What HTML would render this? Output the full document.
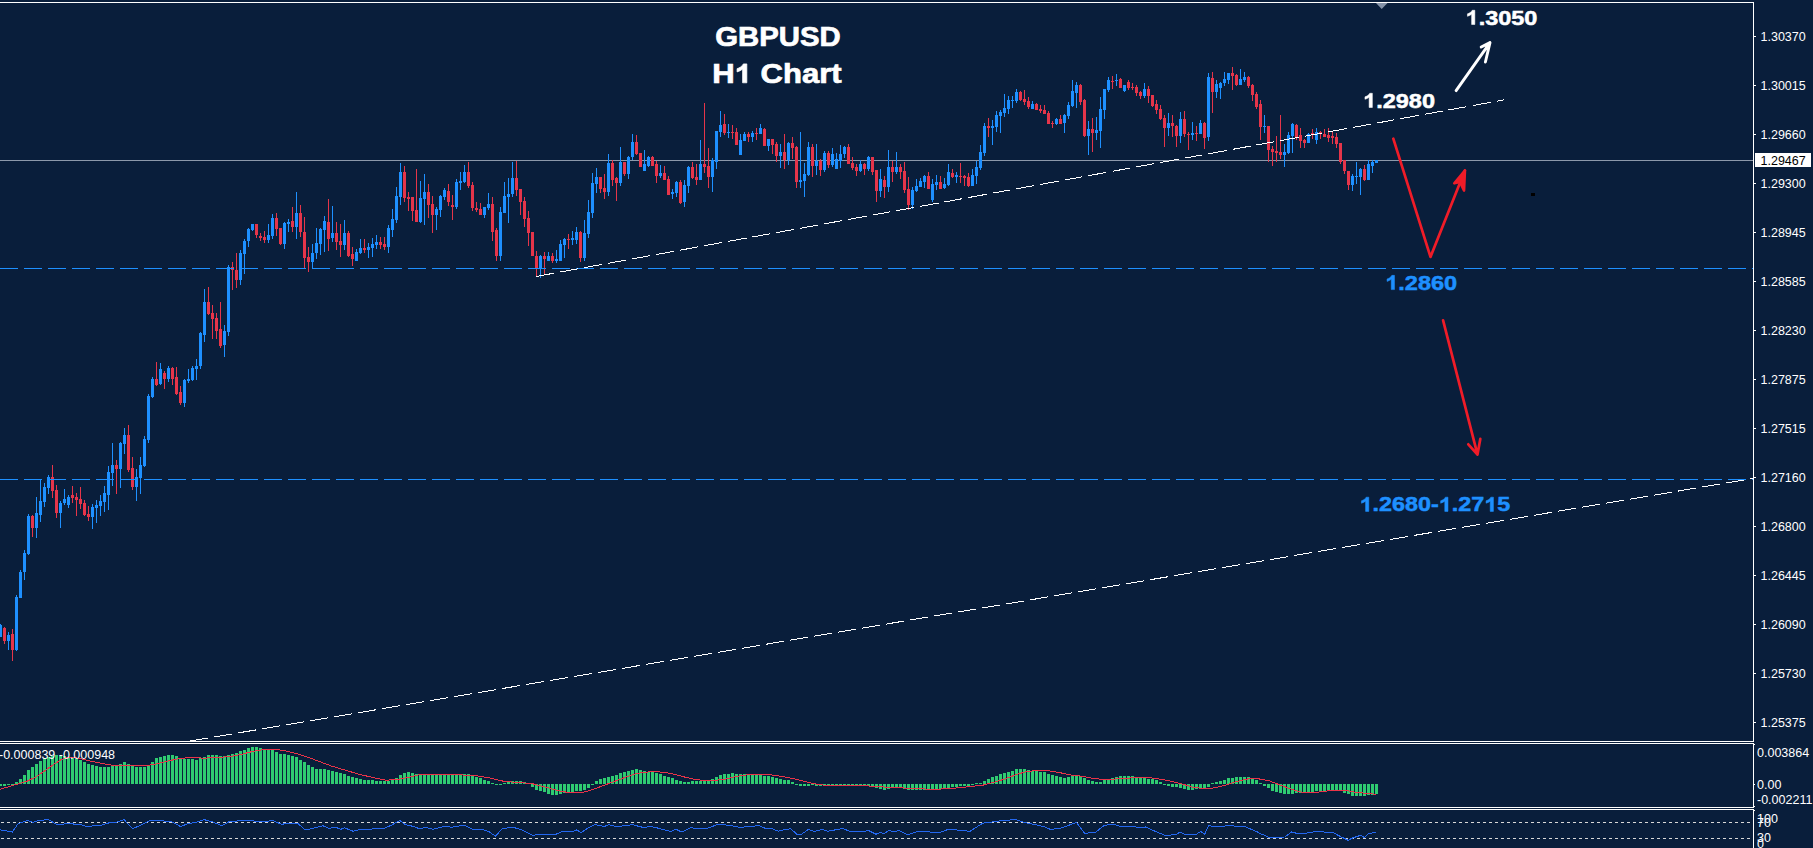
<!DOCTYPE html>
<html><head><meta charset="utf-8"><title>GBPUSD H1 Chart</title>
<style>
html,body{margin:0;padding:0;background:#091e3b;}
body{width:1813px;height:848px;overflow:hidden;font-family:"Liberation Sans",sans-serif;}
svg{display:block}
text{font-family:"Liberation Sans",sans-serif;}
.ax{font-size:12.5px;fill:#fff;}
.big{font-weight:bold;}
</style></head><body>
<svg width="1813" height="848" viewBox="0 0 1813 848">
<rect x="0" y="0" width="1813" height="848" fill="#091e3b"/>

<g shape-rendering="crispEdges" fill="#fff">
<rect x="0" y="2" width="1754" height="1"/>
<rect x="1753" y="2" width="1" height="846"/>
<rect x="0" y="741" width="1754" height="1"/>
<rect x="0" y="743" width="1754" height="1"/>
<rect x="0" y="807" width="1754" height="1"/>
<rect x="0" y="809" width="1754" height="1"/>
</g>
<rect x="1753" y="742" width="1" height="1" fill="#091e3b"/>
<rect x="1753" y="808" width="1" height="1" fill="#091e3b"/>
<rect x="0" y="160" width="1753" height="1" fill="#8d99ab" shape-rendering="crispEdges"/>
<g shape-rendering="crispEdges">
<rect x="0" y="624" width="1" height="13" fill="#1e90ff"/>
<rect x="0" y="625" width="2" height="12" fill="#1e90ff"/>
<rect x="4" y="627" width="1" height="17" fill="#e5354a"/>
<rect x="3" y="628" width="3" height="13" fill="#e5354a"/>
<rect x="8" y="632" width="1" height="18" fill="#1e90ff"/>
<rect x="7" y="635" width="3" height="6" fill="#1e90ff"/>
<rect x="12" y="629" width="1" height="32" fill="#e5354a"/>
<rect x="11" y="634" width="3" height="16" fill="#e5354a"/>
<rect x="16" y="595" width="1" height="56" fill="#1e90ff"/>
<rect x="15" y="597" width="3" height="53" fill="#1e90ff"/>
<rect x="20" y="570" width="1" height="28" fill="#1e90ff"/>
<rect x="19" y="572" width="3" height="26" fill="#1e90ff"/>
<rect x="24" y="550" width="1" height="30" fill="#1e90ff"/>
<rect x="23" y="553" width="3" height="19" fill="#1e90ff"/>
<rect x="28" y="514" width="1" height="41" fill="#1e90ff"/>
<rect x="27" y="516" width="3" height="38" fill="#1e90ff"/>
<rect x="32" y="515" width="1" height="22" fill="#e5354a"/>
<rect x="31" y="516" width="3" height="12" fill="#e5354a"/>
<rect x="36" y="497" width="1" height="41" fill="#1e90ff"/>
<rect x="35" y="513" width="3" height="15" fill="#1e90ff"/>
<rect x="40" y="479" width="1" height="43" fill="#1e90ff"/>
<rect x="39" y="501" width="3" height="14" fill="#1e90ff"/>
<rect x="44" y="483" width="1" height="24" fill="#1e90ff"/>
<rect x="43" y="487" width="3" height="15" fill="#1e90ff"/>
<rect x="48" y="475" width="1" height="19" fill="#1e90ff"/>
<rect x="47" y="477" width="3" height="11" fill="#1e90ff"/>
<rect x="52" y="465" width="1" height="33" fill="#e5354a"/>
<rect x="51" y="477" width="3" height="14" fill="#e5354a"/>
<rect x="56" y="485" width="1" height="33" fill="#e5354a"/>
<rect x="55" y="490" width="3" height="23" fill="#e5354a"/>
<rect x="60" y="501" width="1" height="27" fill="#1e90ff"/>
<rect x="59" y="503" width="3" height="10" fill="#1e90ff"/>
<rect x="64" y="489" width="1" height="16" fill="#1e90ff"/>
<rect x="63" y="499" width="3" height="4" fill="#1e90ff"/>
<rect x="68" y="495" width="1" height="13" fill="#1e90ff"/>
<rect x="67" y="497" width="3" height="8" fill="#1e90ff"/>
<rect x="72" y="486" width="1" height="17" fill="#e5354a"/>
<rect x="71" y="495" width="3" height="3" fill="#e5354a"/>
<rect x="76" y="493" width="1" height="23" fill="#e5354a"/>
<rect x="75" y="497" width="3" height="3" fill="#e5354a"/>
<rect x="80" y="487" width="1" height="22" fill="#e5354a"/>
<rect x="79" y="499" width="3" height="5" fill="#e5354a"/>
<rect x="84" y="500" width="1" height="16" fill="#e5354a"/>
<rect x="83" y="503" width="3" height="12" fill="#e5354a"/>
<rect x="88" y="506" width="1" height="15" fill="#e5354a"/>
<rect x="87" y="514" width="3" height="3" fill="#e5354a"/>
<rect x="92" y="504" width="1" height="25" fill="#1e90ff"/>
<rect x="91" y="507" width="3" height="10" fill="#1e90ff"/>
<rect x="96" y="500" width="1" height="23" fill="#1e90ff"/>
<rect x="95" y="505" width="3" height="3" fill="#1e90ff"/>
<rect x="100" y="495" width="1" height="21" fill="#1e90ff"/>
<rect x="99" y="501" width="3" height="5" fill="#1e90ff"/>
<rect x="104" y="486" width="1" height="26" fill="#1e90ff"/>
<rect x="103" y="493" width="3" height="9" fill="#1e90ff"/>
<rect x="108" y="466" width="1" height="44" fill="#1e90ff"/>
<rect x="107" y="472" width="3" height="23" fill="#1e90ff"/>
<rect x="112" y="443" width="1" height="43" fill="#1e90ff"/>
<rect x="111" y="465" width="3" height="8" fill="#1e90ff"/>
<rect x="116" y="460" width="1" height="34" fill="#e5354a"/>
<rect x="115" y="465" width="3" height="4" fill="#e5354a"/>
<rect x="120" y="442" width="1" height="46" fill="#1e90ff"/>
<rect x="119" y="443" width="3" height="26" fill="#1e90ff"/>
<rect x="124" y="428" width="1" height="26" fill="#1e90ff"/>
<rect x="123" y="435" width="3" height="9" fill="#1e90ff"/>
<rect x="128" y="425" width="1" height="47" fill="#e5354a"/>
<rect x="127" y="435" width="3" height="35" fill="#e5354a"/>
<rect x="132" y="457" width="1" height="33" fill="#e5354a"/>
<rect x="131" y="468" width="3" height="19" fill="#e5354a"/>
<rect x="136" y="469" width="1" height="32" fill="#1e90ff"/>
<rect x="135" y="477" width="3" height="10" fill="#1e90ff"/>
<rect x="140" y="457" width="1" height="37" fill="#1e90ff"/>
<rect x="139" y="465" width="3" height="13" fill="#1e90ff"/>
<rect x="144" y="436" width="1" height="31" fill="#1e90ff"/>
<rect x="143" y="439" width="3" height="27" fill="#1e90ff"/>
<rect x="148" y="394" width="1" height="49" fill="#1e90ff"/>
<rect x="147" y="396" width="3" height="44" fill="#1e90ff"/>
<rect x="152" y="377" width="1" height="21" fill="#1e90ff"/>
<rect x="151" y="379" width="3" height="18" fill="#1e90ff"/>
<rect x="156" y="362" width="1" height="24" fill="#e5354a"/>
<rect x="155" y="379" width="3" height="6" fill="#e5354a"/>
<rect x="160" y="363" width="1" height="22" fill="#1e90ff"/>
<rect x="159" y="369" width="3" height="15" fill="#1e90ff"/>
<rect x="164" y="371" width="1" height="18" fill="#e5354a"/>
<rect x="163" y="373" width="3" height="6" fill="#e5354a"/>
<rect x="168" y="366" width="1" height="16" fill="#1e90ff"/>
<rect x="167" y="368" width="3" height="11" fill="#1e90ff"/>
<rect x="172" y="367" width="1" height="18" fill="#e5354a"/>
<rect x="171" y="368" width="3" height="11" fill="#e5354a"/>
<rect x="176" y="367" width="1" height="28" fill="#e5354a"/>
<rect x="175" y="377" width="3" height="17" fill="#e5354a"/>
<rect x="180" y="386" width="1" height="19" fill="#e5354a"/>
<rect x="179" y="392" width="3" height="11" fill="#e5354a"/>
<rect x="184" y="379" width="1" height="28" fill="#1e90ff"/>
<rect x="183" y="380" width="3" height="23" fill="#1e90ff"/>
<rect x="188" y="369" width="1" height="14" fill="#1e90ff"/>
<rect x="187" y="379" width="3" height="2" fill="#1e90ff"/>
<rect x="192" y="366" width="1" height="15" fill="#1e90ff"/>
<rect x="191" y="368" width="3" height="12" fill="#1e90ff"/>
<rect x="196" y="359" width="1" height="21" fill="#1e90ff"/>
<rect x="195" y="366" width="3" height="3" fill="#1e90ff"/>
<rect x="200" y="332" width="1" height="37" fill="#1e90ff"/>
<rect x="199" y="333" width="3" height="33" fill="#1e90ff"/>
<rect x="204" y="289" width="1" height="53" fill="#1e90ff"/>
<rect x="203" y="302" width="3" height="33" fill="#1e90ff"/>
<rect x="208" y="287" width="1" height="28" fill="#e5354a"/>
<rect x="207" y="302" width="3" height="12" fill="#e5354a"/>
<rect x="212" y="305" width="1" height="34" fill="#e5354a"/>
<rect x="211" y="313" width="3" height="6" fill="#e5354a"/>
<rect x="216" y="313" width="1" height="26" fill="#e5354a"/>
<rect x="215" y="318" width="3" height="13" fill="#e5354a"/>
<rect x="220" y="302" width="1" height="46" fill="#e5354a"/>
<rect x="219" y="329" width="3" height="17" fill="#e5354a"/>
<rect x="224" y="325" width="1" height="32" fill="#1e90ff"/>
<rect x="223" y="331" width="3" height="14" fill="#1e90ff"/>
<rect x="228" y="265" width="1" height="71" fill="#1e90ff"/>
<rect x="227" y="267" width="3" height="65" fill="#1e90ff"/>
<rect x="232" y="262" width="1" height="28" fill="#e5354a"/>
<rect x="231" y="267" width="3" height="3" fill="#e5354a"/>
<rect x="236" y="253" width="1" height="35" fill="#e5354a"/>
<rect x="235" y="270" width="3" height="10" fill="#e5354a"/>
<rect x="240" y="250" width="1" height="35" fill="#1e90ff"/>
<rect x="239" y="253" width="3" height="27" fill="#1e90ff"/>
<rect x="244" y="239" width="1" height="35" fill="#1e90ff"/>
<rect x="243" y="241" width="3" height="13" fill="#1e90ff"/>
<rect x="248" y="228" width="1" height="19" fill="#1e90ff"/>
<rect x="247" y="229" width="3" height="12" fill="#1e90ff"/>
<rect x="252" y="224" width="1" height="7" fill="#1e90ff"/>
<rect x="251" y="224" width="3" height="6" fill="#1e90ff"/>
<rect x="256" y="224" width="1" height="14" fill="#e5354a"/>
<rect x="255" y="224" width="3" height="11" fill="#e5354a"/>
<rect x="260" y="233" width="1" height="8" fill="#e5354a"/>
<rect x="259" y="236" width="3" height="2" fill="#e5354a"/>
<rect x="264" y="231" width="1" height="12" fill="#e5354a"/>
<rect x="263" y="237" width="3" height="3" fill="#e5354a"/>
<rect x="268" y="224" width="1" height="19" fill="#1e90ff"/>
<rect x="267" y="235" width="3" height="5" fill="#1e90ff"/>
<rect x="272" y="214" width="1" height="25" fill="#1e90ff"/>
<rect x="271" y="218" width="3" height="18" fill="#1e90ff"/>
<rect x="276" y="213" width="1" height="23" fill="#e5354a"/>
<rect x="275" y="218" width="3" height="11" fill="#e5354a"/>
<rect x="280" y="228" width="1" height="17" fill="#e5354a"/>
<rect x="279" y="228" width="3" height="16" fill="#e5354a"/>
<rect x="284" y="222" width="1" height="27" fill="#1e90ff"/>
<rect x="283" y="223" width="3" height="21" fill="#1e90ff"/>
<rect x="288" y="219" width="1" height="13" fill="#1e90ff"/>
<rect x="287" y="222" width="3" height="2" fill="#1e90ff"/>
<rect x="292" y="207" width="1" height="25" fill="#e5354a"/>
<rect x="291" y="221" width="3" height="6" fill="#e5354a"/>
<rect x="296" y="192" width="1" height="47" fill="#1e90ff"/>
<rect x="295" y="213" width="3" height="14" fill="#1e90ff"/>
<rect x="300" y="205" width="1" height="32" fill="#e5354a"/>
<rect x="299" y="213" width="3" height="19" fill="#e5354a"/>
<rect x="304" y="217" width="1" height="51" fill="#e5354a"/>
<rect x="303" y="232" width="3" height="26" fill="#e5354a"/>
<rect x="308" y="247" width="1" height="25" fill="#e5354a"/>
<rect x="307" y="257" width="3" height="5" fill="#e5354a"/>
<rect x="312" y="244" width="1" height="24" fill="#1e90ff"/>
<rect x="311" y="253" width="3" height="9" fill="#1e90ff"/>
<rect x="316" y="228" width="1" height="31" fill="#1e90ff"/>
<rect x="315" y="243" width="3" height="10" fill="#1e90ff"/>
<rect x="320" y="228" width="1" height="27" fill="#1e90ff"/>
<rect x="319" y="229" width="3" height="15" fill="#1e90ff"/>
<rect x="324" y="216" width="1" height="36" fill="#1e90ff"/>
<rect x="323" y="221" width="3" height="9" fill="#1e90ff"/>
<rect x="328" y="199" width="1" height="52" fill="#e5354a"/>
<rect x="327" y="222" width="3" height="17" fill="#e5354a"/>
<rect x="332" y="206" width="1" height="36" fill="#1e90ff"/>
<rect x="331" y="233" width="3" height="5" fill="#1e90ff"/>
<rect x="336" y="222" width="1" height="28" fill="#e5354a"/>
<rect x="335" y="233" width="3" height="9" fill="#e5354a"/>
<rect x="340" y="224" width="1" height="33" fill="#e5354a"/>
<rect x="339" y="241" width="3" height="4" fill="#e5354a"/>
<rect x="344" y="220" width="1" height="30" fill="#1e90ff"/>
<rect x="343" y="233" width="3" height="12" fill="#1e90ff"/>
<rect x="348" y="231" width="1" height="26" fill="#e5354a"/>
<rect x="347" y="233" width="3" height="23" fill="#e5354a"/>
<rect x="352" y="247" width="1" height="19" fill="#e5354a"/>
<rect x="351" y="254" width="3" height="5" fill="#e5354a"/>
<rect x="356" y="249" width="1" height="12" fill="#1e90ff"/>
<rect x="355" y="252" width="3" height="9" fill="#1e90ff"/>
<rect x="360" y="239" width="1" height="15" fill="#1e90ff"/>
<rect x="359" y="248" width="3" height="5" fill="#1e90ff"/>
<rect x="364" y="239" width="1" height="14" fill="#e5354a"/>
<rect x="363" y="248" width="3" height="2" fill="#e5354a"/>
<rect x="368" y="243" width="1" height="15" fill="#1e90ff"/>
<rect x="367" y="247" width="3" height="3" fill="#1e90ff"/>
<rect x="372" y="238" width="1" height="19" fill="#1e90ff"/>
<rect x="371" y="244" width="3" height="4" fill="#1e90ff"/>
<rect x="376" y="235" width="1" height="14" fill="#1e90ff"/>
<rect x="375" y="242" width="3" height="3" fill="#1e90ff"/>
<rect x="380" y="237" width="1" height="12" fill="#e5354a"/>
<rect x="379" y="242" width="3" height="3" fill="#e5354a"/>
<rect x="384" y="237" width="1" height="13" fill="#e5354a"/>
<rect x="383" y="244" width="3" height="3" fill="#e5354a"/>
<rect x="388" y="225" width="1" height="28" fill="#1e90ff"/>
<rect x="387" y="228" width="3" height="19" fill="#1e90ff"/>
<rect x="392" y="209" width="1" height="28" fill="#1e90ff"/>
<rect x="391" y="219" width="3" height="11" fill="#1e90ff"/>
<rect x="396" y="187" width="1" height="36" fill="#1e90ff"/>
<rect x="395" y="196" width="3" height="24" fill="#1e90ff"/>
<rect x="400" y="163" width="1" height="42" fill="#1e90ff"/>
<rect x="399" y="172" width="3" height="25" fill="#1e90ff"/>
<rect x="404" y="166" width="1" height="36" fill="#e5354a"/>
<rect x="403" y="172" width="3" height="26" fill="#e5354a"/>
<rect x="408" y="192" width="1" height="19" fill="#e5354a"/>
<rect x="407" y="197" width="3" height="2" fill="#e5354a"/>
<rect x="412" y="197" width="1" height="24" fill="#e5354a"/>
<rect x="411" y="197" width="3" height="14" fill="#e5354a"/>
<rect x="416" y="169" width="1" height="53" fill="#e5354a"/>
<rect x="415" y="210" width="3" height="12" fill="#e5354a"/>
<rect x="420" y="181" width="1" height="42" fill="#1e90ff"/>
<rect x="419" y="198" width="3" height="24" fill="#1e90ff"/>
<rect x="424" y="174" width="1" height="51" fill="#1e90ff"/>
<rect x="423" y="192" width="3" height="7" fill="#1e90ff"/>
<rect x="428" y="184" width="1" height="34" fill="#e5354a"/>
<rect x="427" y="192" width="3" height="13" fill="#e5354a"/>
<rect x="432" y="196" width="1" height="37" fill="#e5354a"/>
<rect x="431" y="204" width="3" height="11" fill="#e5354a"/>
<rect x="436" y="207" width="1" height="23" fill="#1e90ff"/>
<rect x="435" y="209" width="3" height="6" fill="#1e90ff"/>
<rect x="440" y="195" width="1" height="22" fill="#1e90ff"/>
<rect x="439" y="196" width="3" height="14" fill="#1e90ff"/>
<rect x="444" y="188" width="1" height="12" fill="#1e90ff"/>
<rect x="443" y="190" width="3" height="7" fill="#1e90ff"/>
<rect x="448" y="184" width="1" height="22" fill="#e5354a"/>
<rect x="447" y="191" width="3" height="11" fill="#e5354a"/>
<rect x="452" y="195" width="1" height="25" fill="#e5354a"/>
<rect x="451" y="205" width="3" height="2" fill="#e5354a"/>
<rect x="456" y="179" width="1" height="30" fill="#1e90ff"/>
<rect x="455" y="182" width="3" height="25" fill="#1e90ff"/>
<rect x="460" y="172" width="1" height="18" fill="#1e90ff"/>
<rect x="459" y="181" width="3" height="2" fill="#1e90ff"/>
<rect x="464" y="165" width="1" height="18" fill="#1e90ff"/>
<rect x="463" y="172" width="3" height="10" fill="#1e90ff"/>
<rect x="468" y="162" width="1" height="26" fill="#e5354a"/>
<rect x="467" y="172" width="3" height="14" fill="#e5354a"/>
<rect x="472" y="182" width="1" height="29" fill="#e5354a"/>
<rect x="471" y="185" width="3" height="23" fill="#e5354a"/>
<rect x="476" y="202" width="1" height="10" fill="#e5354a"/>
<rect x="475" y="208" width="3" height="2" fill="#e5354a"/>
<rect x="480" y="203" width="1" height="12" fill="#e5354a"/>
<rect x="479" y="209" width="3" height="6" fill="#e5354a"/>
<rect x="484" y="207" width="1" height="11" fill="#1e90ff"/>
<rect x="483" y="207" width="3" height="8" fill="#1e90ff"/>
<rect x="488" y="193" width="1" height="17" fill="#1e90ff"/>
<rect x="487" y="204" width="3" height="4" fill="#1e90ff"/>
<rect x="492" y="197" width="1" height="44" fill="#e5354a"/>
<rect x="491" y="204" width="3" height="28" fill="#e5354a"/>
<rect x="496" y="228" width="1" height="33" fill="#e5354a"/>
<rect x="495" y="230" width="3" height="26" fill="#e5354a"/>
<rect x="500" y="207" width="1" height="54" fill="#1e90ff"/>
<rect x="499" y="212" width="3" height="44" fill="#1e90ff"/>
<rect x="504" y="182" width="1" height="31" fill="#1e90ff"/>
<rect x="503" y="196" width="3" height="17" fill="#1e90ff"/>
<rect x="508" y="178" width="1" height="45" fill="#1e90ff"/>
<rect x="507" y="194" width="3" height="3" fill="#1e90ff"/>
<rect x="512" y="162" width="1" height="35" fill="#1e90ff"/>
<rect x="511" y="178" width="3" height="16" fill="#1e90ff"/>
<rect x="516" y="161" width="1" height="35" fill="#e5354a"/>
<rect x="515" y="178" width="3" height="12" fill="#e5354a"/>
<rect x="520" y="189" width="1" height="26" fill="#e5354a"/>
<rect x="519" y="189" width="3" height="13" fill="#e5354a"/>
<rect x="524" y="197" width="1" height="30" fill="#e5354a"/>
<rect x="523" y="201" width="3" height="18" fill="#e5354a"/>
<rect x="528" y="211" width="1" height="35" fill="#e5354a"/>
<rect x="527" y="218" width="3" height="15" fill="#e5354a"/>
<rect x="532" y="232" width="1" height="24" fill="#e5354a"/>
<rect x="531" y="232" width="3" height="24" fill="#e5354a"/>
<rect x="536" y="251" width="1" height="26" fill="#e5354a"/>
<rect x="535" y="256" width="3" height="12" fill="#e5354a"/>
<rect x="540" y="255" width="1" height="23" fill="#1e90ff"/>
<rect x="539" y="256" width="3" height="12" fill="#1e90ff"/>
<rect x="544" y="252" width="1" height="22" fill="#e5354a"/>
<rect x="543" y="256" width="3" height="3" fill="#e5354a"/>
<rect x="548" y="252" width="1" height="9" fill="#1e90ff"/>
<rect x="547" y="256" width="3" height="5" fill="#1e90ff"/>
<rect x="552" y="253" width="1" height="10" fill="#e5354a"/>
<rect x="551" y="256" width="3" height="5" fill="#e5354a"/>
<rect x="556" y="250" width="1" height="13" fill="#1e90ff"/>
<rect x="555" y="259" width="3" height="2" fill="#1e90ff"/>
<rect x="560" y="240" width="1" height="21" fill="#1e90ff"/>
<rect x="559" y="244" width="3" height="17" fill="#1e90ff"/>
<rect x="564" y="238" width="1" height="20" fill="#1e90ff"/>
<rect x="563" y="239" width="3" height="6" fill="#1e90ff"/>
<rect x="568" y="234" width="1" height="15" fill="#e5354a"/>
<rect x="567" y="239" width="3" height="1" fill="#e5354a"/>
<rect x="572" y="231" width="1" height="14" fill="#1e90ff"/>
<rect x="571" y="238" width="3" height="2" fill="#1e90ff"/>
<rect x="576" y="227" width="1" height="17" fill="#1e90ff"/>
<rect x="575" y="232" width="3" height="8" fill="#1e90ff"/>
<rect x="580" y="231" width="1" height="31" fill="#e5354a"/>
<rect x="579" y="232" width="3" height="26" fill="#e5354a"/>
<rect x="584" y="220" width="1" height="41" fill="#1e90ff"/>
<rect x="583" y="233" width="3" height="25" fill="#1e90ff"/>
<rect x="588" y="200" width="1" height="38" fill="#1e90ff"/>
<rect x="587" y="212" width="3" height="22" fill="#1e90ff"/>
<rect x="592" y="173" width="1" height="45" fill="#1e90ff"/>
<rect x="591" y="183" width="3" height="30" fill="#1e90ff"/>
<rect x="596" y="168" width="1" height="25" fill="#1e90ff"/>
<rect x="595" y="177" width="3" height="7" fill="#1e90ff"/>
<rect x="600" y="177" width="1" height="16" fill="#e5354a"/>
<rect x="599" y="177" width="3" height="12" fill="#e5354a"/>
<rect x="604" y="174" width="1" height="25" fill="#e5354a"/>
<rect x="603" y="188" width="3" height="4" fill="#e5354a"/>
<rect x="608" y="154" width="1" height="42" fill="#1e90ff"/>
<rect x="607" y="163" width="3" height="29" fill="#1e90ff"/>
<rect x="612" y="160" width="1" height="26" fill="#e5354a"/>
<rect x="611" y="163" width="3" height="17" fill="#e5354a"/>
<rect x="616" y="177" width="1" height="24" fill="#e5354a"/>
<rect x="615" y="178" width="3" height="5" fill="#e5354a"/>
<rect x="620" y="147" width="1" height="39" fill="#1e90ff"/>
<rect x="619" y="162" width="3" height="21" fill="#1e90ff"/>
<rect x="624" y="162" width="1" height="14" fill="#e5354a"/>
<rect x="623" y="162" width="3" height="12" fill="#e5354a"/>
<rect x="628" y="156" width="1" height="23" fill="#1e90ff"/>
<rect x="627" y="157" width="3" height="17" fill="#1e90ff"/>
<rect x="632" y="134" width="1" height="26" fill="#1e90ff"/>
<rect x="631" y="142" width="3" height="15" fill="#1e90ff"/>
<rect x="636" y="135" width="1" height="20" fill="#e5354a"/>
<rect x="635" y="142" width="3" height="12" fill="#e5354a"/>
<rect x="640" y="153" width="1" height="14" fill="#e5354a"/>
<rect x="639" y="153" width="3" height="14" fill="#e5354a"/>
<rect x="644" y="150" width="1" height="21" fill="#1e90ff"/>
<rect x="643" y="164" width="3" height="7" fill="#1e90ff"/>
<rect x="648" y="156" width="1" height="11" fill="#1e90ff"/>
<rect x="647" y="157" width="3" height="9" fill="#1e90ff"/>
<rect x="652" y="156" width="1" height="10" fill="#e5354a"/>
<rect x="651" y="157" width="3" height="9" fill="#e5354a"/>
<rect x="656" y="161" width="1" height="22" fill="#e5354a"/>
<rect x="655" y="164" width="3" height="12" fill="#e5354a"/>
<rect x="660" y="165" width="1" height="13" fill="#1e90ff"/>
<rect x="659" y="173" width="3" height="3" fill="#1e90ff"/>
<rect x="664" y="166" width="1" height="14" fill="#e5354a"/>
<rect x="663" y="173" width="3" height="7" fill="#e5354a"/>
<rect x="668" y="176" width="1" height="19" fill="#e5354a"/>
<rect x="667" y="179" width="3" height="16" fill="#e5354a"/>
<rect x="672" y="189" width="1" height="10" fill="#1e90ff"/>
<rect x="671" y="192" width="3" height="2" fill="#1e90ff"/>
<rect x="676" y="181" width="1" height="16" fill="#1e90ff"/>
<rect x="675" y="182" width="3" height="11" fill="#1e90ff"/>
<rect x="680" y="180" width="1" height="24" fill="#e5354a"/>
<rect x="679" y="182" width="3" height="21" fill="#e5354a"/>
<rect x="684" y="180" width="1" height="27" fill="#1e90ff"/>
<rect x="683" y="185" width="3" height="17" fill="#1e90ff"/>
<rect x="688" y="166" width="1" height="27" fill="#1e90ff"/>
<rect x="687" y="167" width="3" height="19" fill="#1e90ff"/>
<rect x="692" y="162" width="1" height="17" fill="#e5354a"/>
<rect x="691" y="167" width="3" height="11" fill="#e5354a"/>
<rect x="696" y="164" width="1" height="21" fill="#e5354a"/>
<rect x="695" y="177" width="3" height="3" fill="#e5354a"/>
<rect x="700" y="140" width="1" height="40" fill="#1e90ff"/>
<rect x="699" y="164" width="3" height="16" fill="#1e90ff"/>
<rect x="704" y="103" width="1" height="70" fill="#e5354a"/>
<rect x="703" y="164" width="3" height="3" fill="#e5354a"/>
<rect x="708" y="148" width="1" height="40" fill="#e5354a"/>
<rect x="707" y="166" width="3" height="11" fill="#e5354a"/>
<rect x="712" y="158" width="1" height="34" fill="#1e90ff"/>
<rect x="711" y="160" width="3" height="17" fill="#1e90ff"/>
<rect x="716" y="131" width="1" height="38" fill="#1e90ff"/>
<rect x="715" y="131" width="3" height="31" fill="#1e90ff"/>
<rect x="720" y="111" width="1" height="26" fill="#1e90ff"/>
<rect x="719" y="125" width="3" height="7" fill="#1e90ff"/>
<rect x="724" y="114" width="1" height="21" fill="#e5354a"/>
<rect x="723" y="124" width="3" height="9" fill="#e5354a"/>
<rect x="728" y="124" width="1" height="14" fill="#1e90ff"/>
<rect x="727" y="132" width="3" height="1" fill="#1e90ff"/>
<rect x="732" y="125" width="1" height="14" fill="#e5354a"/>
<rect x="731" y="132" width="3" height="1" fill="#e5354a"/>
<rect x="736" y="128" width="1" height="17" fill="#e5354a"/>
<rect x="735" y="132" width="3" height="13" fill="#e5354a"/>
<rect x="740" y="134" width="1" height="21" fill="#1e90ff"/>
<rect x="739" y="140" width="3" height="15" fill="#1e90ff"/>
<rect x="744" y="132" width="1" height="9" fill="#1e90ff"/>
<rect x="743" y="134" width="3" height="7" fill="#1e90ff"/>
<rect x="748" y="132" width="1" height="10" fill="#e5354a"/>
<rect x="747" y="134" width="3" height="3" fill="#e5354a"/>
<rect x="752" y="131" width="1" height="11" fill="#1e90ff"/>
<rect x="751" y="133" width="3" height="4" fill="#1e90ff"/>
<rect x="756" y="128" width="1" height="12" fill="#e5354a"/>
<rect x="755" y="133" width="3" height="1" fill="#e5354a"/>
<rect x="760" y="124" width="1" height="10" fill="#1e90ff"/>
<rect x="759" y="128" width="3" height="6" fill="#1e90ff"/>
<rect x="764" y="128" width="1" height="18" fill="#e5354a"/>
<rect x="763" y="129" width="3" height="17" fill="#e5354a"/>
<rect x="768" y="139" width="1" height="12" fill="#1e90ff"/>
<rect x="767" y="139" width="3" height="7" fill="#1e90ff"/>
<rect x="772" y="139" width="1" height="15" fill="#e5354a"/>
<rect x="771" y="139" width="3" height="6" fill="#e5354a"/>
<rect x="776" y="142" width="1" height="20" fill="#e5354a"/>
<rect x="775" y="144" width="3" height="12" fill="#e5354a"/>
<rect x="780" y="144" width="1" height="24" fill="#1e90ff"/>
<rect x="779" y="152" width="3" height="4" fill="#1e90ff"/>
<rect x="784" y="134" width="1" height="35" fill="#e5354a"/>
<rect x="783" y="152" width="3" height="8" fill="#e5354a"/>
<rect x="788" y="142" width="1" height="23" fill="#1e90ff"/>
<rect x="787" y="143" width="3" height="17" fill="#1e90ff"/>
<rect x="792" y="137" width="1" height="22" fill="#e5354a"/>
<rect x="791" y="143" width="3" height="5" fill="#e5354a"/>
<rect x="796" y="146" width="1" height="42" fill="#e5354a"/>
<rect x="795" y="147" width="3" height="35" fill="#e5354a"/>
<rect x="800" y="132" width="1" height="56" fill="#1e90ff"/>
<rect x="799" y="180" width="3" height="2" fill="#1e90ff"/>
<rect x="804" y="163" width="1" height="34" fill="#1e90ff"/>
<rect x="803" y="174" width="3" height="7" fill="#1e90ff"/>
<rect x="808" y="142" width="1" height="34" fill="#1e90ff"/>
<rect x="807" y="147" width="3" height="28" fill="#1e90ff"/>
<rect x="812" y="144" width="1" height="33" fill="#e5354a"/>
<rect x="811" y="147" width="3" height="19" fill="#e5354a"/>
<rect x="816" y="144" width="1" height="31" fill="#1e90ff"/>
<rect x="815" y="161" width="3" height="5" fill="#1e90ff"/>
<rect x="820" y="159" width="1" height="17" fill="#e5354a"/>
<rect x="819" y="161" width="3" height="9" fill="#e5354a"/>
<rect x="824" y="151" width="1" height="21" fill="#1e90ff"/>
<rect x="823" y="153" width="3" height="17" fill="#1e90ff"/>
<rect x="828" y="151" width="1" height="17" fill="#e5354a"/>
<rect x="827" y="153" width="3" height="12" fill="#e5354a"/>
<rect x="832" y="148" width="1" height="19" fill="#1e90ff"/>
<rect x="831" y="154" width="3" height="11" fill="#1e90ff"/>
<rect x="836" y="153" width="1" height="16" fill="#1e90ff"/>
<rect x="835" y="159" width="3" height="10" fill="#1e90ff"/>
<rect x="840" y="145" width="1" height="23" fill="#1e90ff"/>
<rect x="839" y="154" width="3" height="7" fill="#1e90ff"/>
<rect x="844" y="146" width="1" height="12" fill="#1e90ff"/>
<rect x="843" y="147" width="3" height="7" fill="#1e90ff"/>
<rect x="848" y="144" width="1" height="20" fill="#e5354a"/>
<rect x="847" y="147" width="3" height="17" fill="#e5354a"/>
<rect x="852" y="157" width="1" height="13" fill="#e5354a"/>
<rect x="851" y="163" width="3" height="5" fill="#e5354a"/>
<rect x="856" y="164" width="1" height="12" fill="#e5354a"/>
<rect x="855" y="167" width="3" height="4" fill="#e5354a"/>
<rect x="860" y="160" width="1" height="12" fill="#1e90ff"/>
<rect x="859" y="164" width="3" height="7" fill="#1e90ff"/>
<rect x="864" y="163" width="1" height="12" fill="#e5354a"/>
<rect x="863" y="164" width="3" height="5" fill="#e5354a"/>
<rect x="868" y="156" width="1" height="15" fill="#1e90ff"/>
<rect x="867" y="157" width="3" height="12" fill="#1e90ff"/>
<rect x="872" y="157" width="1" height="18" fill="#e5354a"/>
<rect x="871" y="157" width="3" height="15" fill="#e5354a"/>
<rect x="876" y="170" width="1" height="32" fill="#e5354a"/>
<rect x="875" y="170" width="3" height="21" fill="#e5354a"/>
<rect x="880" y="169" width="1" height="28" fill="#1e90ff"/>
<rect x="879" y="179" width="3" height="12" fill="#1e90ff"/>
<rect x="884" y="176" width="1" height="22" fill="#e5354a"/>
<rect x="883" y="180" width="3" height="7" fill="#e5354a"/>
<rect x="888" y="150" width="1" height="42" fill="#1e90ff"/>
<rect x="887" y="167" width="3" height="20" fill="#1e90ff"/>
<rect x="892" y="161" width="1" height="21" fill="#e5354a"/>
<rect x="891" y="167" width="3" height="5" fill="#e5354a"/>
<rect x="896" y="152" width="1" height="22" fill="#1e90ff"/>
<rect x="895" y="167" width="3" height="5" fill="#1e90ff"/>
<rect x="900" y="164" width="1" height="15" fill="#e5354a"/>
<rect x="899" y="167" width="3" height="5" fill="#e5354a"/>
<rect x="904" y="162" width="1" height="31" fill="#e5354a"/>
<rect x="903" y="171" width="3" height="19" fill="#e5354a"/>
<rect x="908" y="177" width="1" height="33" fill="#e5354a"/>
<rect x="907" y="189" width="3" height="16" fill="#e5354a"/>
<rect x="912" y="187" width="1" height="22" fill="#1e90ff"/>
<rect x="911" y="190" width="3" height="15" fill="#1e90ff"/>
<rect x="916" y="179" width="1" height="13" fill="#1e90ff"/>
<rect x="915" y="186" width="3" height="5" fill="#1e90ff"/>
<rect x="920" y="178" width="1" height="9" fill="#1e90ff"/>
<rect x="919" y="181" width="3" height="6" fill="#1e90ff"/>
<rect x="924" y="175" width="1" height="13" fill="#1e90ff"/>
<rect x="923" y="176" width="3" height="6" fill="#1e90ff"/>
<rect x="928" y="172" width="1" height="17" fill="#e5354a"/>
<rect x="927" y="176" width="3" height="13" fill="#e5354a"/>
<rect x="932" y="179" width="1" height="23" fill="#1e90ff"/>
<rect x="931" y="184" width="3" height="16" fill="#1e90ff"/>
<rect x="936" y="175" width="1" height="15" fill="#1e90ff"/>
<rect x="935" y="182" width="3" height="3" fill="#1e90ff"/>
<rect x="940" y="176" width="1" height="13" fill="#e5354a"/>
<rect x="939" y="182" width="3" height="7" fill="#e5354a"/>
<rect x="944" y="178" width="1" height="11" fill="#1e90ff"/>
<rect x="943" y="184" width="3" height="4" fill="#1e90ff"/>
<rect x="948" y="164" width="1" height="22" fill="#1e90ff"/>
<rect x="947" y="172" width="3" height="13" fill="#1e90ff"/>
<rect x="952" y="169" width="1" height="9" fill="#e5354a"/>
<rect x="951" y="173" width="3" height="4" fill="#e5354a"/>
<rect x="956" y="172" width="1" height="11" fill="#1e90ff"/>
<rect x="955" y="175" width="3" height="2" fill="#1e90ff"/>
<rect x="960" y="163" width="1" height="20" fill="#e5354a"/>
<rect x="959" y="176" width="3" height="1" fill="#e5354a"/>
<rect x="964" y="175" width="1" height="11" fill="#e5354a"/>
<rect x="963" y="176" width="3" height="2" fill="#e5354a"/>
<rect x="968" y="173" width="1" height="14" fill="#e5354a"/>
<rect x="967" y="177" width="3" height="9" fill="#e5354a"/>
<rect x="972" y="169" width="1" height="17" fill="#1e90ff"/>
<rect x="971" y="175" width="3" height="11" fill="#1e90ff"/>
<rect x="976" y="161" width="1" height="23" fill="#1e90ff"/>
<rect x="975" y="167" width="3" height="9" fill="#1e90ff"/>
<rect x="980" y="145" width="1" height="25" fill="#1e90ff"/>
<rect x="979" y="152" width="3" height="16" fill="#1e90ff"/>
<rect x="984" y="123" width="1" height="33" fill="#1e90ff"/>
<rect x="983" y="126" width="3" height="27" fill="#1e90ff"/>
<rect x="988" y="118" width="1" height="19" fill="#e5354a"/>
<rect x="987" y="126" width="3" height="2" fill="#e5354a"/>
<rect x="992" y="120" width="1" height="25" fill="#1e90ff"/>
<rect x="991" y="126" width="3" height="2" fill="#1e90ff"/>
<rect x="996" y="111" width="1" height="21" fill="#1e90ff"/>
<rect x="995" y="115" width="3" height="12" fill="#1e90ff"/>
<rect x="1000" y="110" width="1" height="23" fill="#1e90ff"/>
<rect x="999" y="112" width="3" height="4" fill="#1e90ff"/>
<rect x="1004" y="94" width="1" height="23" fill="#1e90ff"/>
<rect x="1003" y="108" width="3" height="5" fill="#1e90ff"/>
<rect x="1008" y="96" width="1" height="18" fill="#1e90ff"/>
<rect x="1007" y="100" width="3" height="9" fill="#1e90ff"/>
<rect x="1012" y="96" width="1" height="12" fill="#1e90ff"/>
<rect x="1011" y="100" width="3" height="1" fill="#1e90ff"/>
<rect x="1016" y="89" width="1" height="14" fill="#1e90ff"/>
<rect x="1015" y="92" width="3" height="9" fill="#1e90ff"/>
<rect x="1020" y="91" width="1" height="10" fill="#e5354a"/>
<rect x="1019" y="92" width="3" height="8" fill="#e5354a"/>
<rect x="1024" y="90" width="1" height="15" fill="#e5354a"/>
<rect x="1023" y="99" width="3" height="3" fill="#e5354a"/>
<rect x="1028" y="97" width="1" height="12" fill="#e5354a"/>
<rect x="1027" y="101" width="3" height="6" fill="#e5354a"/>
<rect x="1032" y="101" width="1" height="8" fill="#1e90ff"/>
<rect x="1031" y="104" width="3" height="5" fill="#1e90ff"/>
<rect x="1036" y="103" width="1" height="7" fill="#e5354a"/>
<rect x="1035" y="104" width="3" height="6" fill="#e5354a"/>
<rect x="1040" y="105" width="1" height="8" fill="#e5354a"/>
<rect x="1039" y="109" width="3" height="2" fill="#e5354a"/>
<rect x="1044" y="105" width="1" height="9" fill="#e5354a"/>
<rect x="1043" y="110" width="3" height="4" fill="#e5354a"/>
<rect x="1048" y="111" width="1" height="13" fill="#e5354a"/>
<rect x="1047" y="113" width="3" height="11" fill="#e5354a"/>
<rect x="1052" y="121" width="1" height="7" fill="#e5354a"/>
<rect x="1051" y="123" width="3" height="1" fill="#e5354a"/>
<rect x="1056" y="118" width="1" height="7" fill="#1e90ff"/>
<rect x="1055" y="119" width="3" height="5" fill="#1e90ff"/>
<rect x="1060" y="115" width="1" height="9" fill="#e5354a"/>
<rect x="1059" y="119" width="3" height="5" fill="#e5354a"/>
<rect x="1064" y="114" width="1" height="19" fill="#1e90ff"/>
<rect x="1063" y="115" width="3" height="8" fill="#1e90ff"/>
<rect x="1068" y="102" width="1" height="17" fill="#1e90ff"/>
<rect x="1067" y="105" width="3" height="11" fill="#1e90ff"/>
<rect x="1072" y="80" width="1" height="27" fill="#1e90ff"/>
<rect x="1071" y="91" width="3" height="15" fill="#1e90ff"/>
<rect x="1076" y="82" width="1" height="26" fill="#1e90ff"/>
<rect x="1075" y="85" width="3" height="8" fill="#1e90ff"/>
<rect x="1080" y="84" width="1" height="21" fill="#e5354a"/>
<rect x="1079" y="85" width="3" height="17" fill="#e5354a"/>
<rect x="1084" y="99" width="1" height="38" fill="#e5354a"/>
<rect x="1083" y="100" width="3" height="36" fill="#e5354a"/>
<rect x="1088" y="121" width="1" height="34" fill="#1e90ff"/>
<rect x="1087" y="129" width="3" height="7" fill="#1e90ff"/>
<rect x="1092" y="118" width="1" height="34" fill="#e5354a"/>
<rect x="1091" y="129" width="3" height="4" fill="#e5354a"/>
<rect x="1096" y="117" width="1" height="23" fill="#1e90ff"/>
<rect x="1095" y="130" width="3" height="3" fill="#1e90ff"/>
<rect x="1100" y="97" width="1" height="51" fill="#1e90ff"/>
<rect x="1099" y="109" width="3" height="22" fill="#1e90ff"/>
<rect x="1104" y="89" width="1" height="30" fill="#1e90ff"/>
<rect x="1103" y="89" width="3" height="21" fill="#1e90ff"/>
<rect x="1108" y="77" width="1" height="15" fill="#1e90ff"/>
<rect x="1107" y="80" width="3" height="10" fill="#1e90ff"/>
<rect x="1112" y="76" width="1" height="13" fill="#e5354a"/>
<rect x="1111" y="81" width="3" height="1" fill="#e5354a"/>
<rect x="1116" y="74" width="1" height="12" fill="#1e90ff"/>
<rect x="1115" y="80" width="3" height="1" fill="#1e90ff"/>
<rect x="1120" y="78" width="1" height="10" fill="#e5354a"/>
<rect x="1119" y="79" width="3" height="9" fill="#e5354a"/>
<rect x="1124" y="85" width="1" height="7" fill="#1e90ff"/>
<rect x="1123" y="85" width="3" height="6" fill="#1e90ff"/>
<rect x="1128" y="80" width="1" height="10" fill="#e5354a"/>
<rect x="1127" y="82" width="3" height="6" fill="#e5354a"/>
<rect x="1132" y="83" width="1" height="7" fill="#e5354a"/>
<rect x="1131" y="87" width="3" height="1" fill="#e5354a"/>
<rect x="1136" y="85" width="1" height="11" fill="#e5354a"/>
<rect x="1135" y="87" width="3" height="6" fill="#e5354a"/>
<rect x="1140" y="91" width="1" height="8" fill="#e5354a"/>
<rect x="1139" y="92" width="3" height="4" fill="#e5354a"/>
<rect x="1144" y="83" width="1" height="15" fill="#1e90ff"/>
<rect x="1143" y="89" width="3" height="7" fill="#1e90ff"/>
<rect x="1148" y="86" width="1" height="17" fill="#e5354a"/>
<rect x="1147" y="89" width="3" height="7" fill="#e5354a"/>
<rect x="1152" y="95" width="1" height="12" fill="#e5354a"/>
<rect x="1151" y="95" width="3" height="11" fill="#e5354a"/>
<rect x="1156" y="100" width="1" height="14" fill="#e5354a"/>
<rect x="1155" y="104" width="3" height="6" fill="#e5354a"/>
<rect x="1160" y="105" width="1" height="15" fill="#e5354a"/>
<rect x="1159" y="109" width="3" height="10" fill="#e5354a"/>
<rect x="1164" y="115" width="1" height="32" fill="#e5354a"/>
<rect x="1163" y="118" width="3" height="10" fill="#e5354a"/>
<rect x="1168" y="113" width="1" height="23" fill="#1e90ff"/>
<rect x="1167" y="123" width="3" height="5" fill="#1e90ff"/>
<rect x="1172" y="115" width="1" height="22" fill="#e5354a"/>
<rect x="1171" y="123" width="3" height="3" fill="#e5354a"/>
<rect x="1176" y="125" width="1" height="22" fill="#e5354a"/>
<rect x="1175" y="126" width="3" height="10" fill="#e5354a"/>
<rect x="1180" y="112" width="1" height="31" fill="#1e90ff"/>
<rect x="1179" y="119" width="3" height="17" fill="#1e90ff"/>
<rect x="1184" y="111" width="1" height="26" fill="#e5354a"/>
<rect x="1183" y="119" width="3" height="15" fill="#e5354a"/>
<rect x="1188" y="132" width="1" height="18" fill="#e5354a"/>
<rect x="1187" y="134" width="3" height="1" fill="#e5354a"/>
<rect x="1192" y="122" width="1" height="18" fill="#1e90ff"/>
<rect x="1191" y="133" width="3" height="2" fill="#1e90ff"/>
<rect x="1196" y="126" width="1" height="15" fill="#e5354a"/>
<rect x="1195" y="133" width="3" height="1" fill="#e5354a"/>
<rect x="1200" y="120" width="1" height="14" fill="#1e90ff"/>
<rect x="1199" y="123" width="3" height="11" fill="#1e90ff"/>
<rect x="1204" y="122" width="1" height="27" fill="#e5354a"/>
<rect x="1203" y="123" width="3" height="15" fill="#e5354a"/>
<rect x="1208" y="73" width="1" height="68" fill="#1e90ff"/>
<rect x="1207" y="77" width="3" height="60" fill="#1e90ff"/>
<rect x="1212" y="72" width="1" height="41" fill="#e5354a"/>
<rect x="1211" y="78" width="3" height="14" fill="#e5354a"/>
<rect x="1216" y="80" width="1" height="18" fill="#1e90ff"/>
<rect x="1215" y="84" width="3" height="8" fill="#1e90ff"/>
<rect x="1220" y="82" width="1" height="17" fill="#1e90ff"/>
<rect x="1219" y="83" width="3" height="5" fill="#1e90ff"/>
<rect x="1224" y="72" width="1" height="14" fill="#1e90ff"/>
<rect x="1223" y="79" width="3" height="4" fill="#1e90ff"/>
<rect x="1228" y="73" width="1" height="11" fill="#1e90ff"/>
<rect x="1227" y="73" width="3" height="7" fill="#1e90ff"/>
<rect x="1232" y="67" width="1" height="23" fill="#e5354a"/>
<rect x="1231" y="73" width="3" height="3" fill="#e5354a"/>
<rect x="1236" y="74" width="1" height="12" fill="#e5354a"/>
<rect x="1235" y="75" width="3" height="10" fill="#e5354a"/>
<rect x="1240" y="69" width="1" height="16" fill="#1e90ff"/>
<rect x="1239" y="79" width="3" height="6" fill="#1e90ff"/>
<rect x="1244" y="72" width="1" height="10" fill="#1e90ff"/>
<rect x="1243" y="77" width="3" height="3" fill="#1e90ff"/>
<rect x="1248" y="76" width="1" height="12" fill="#e5354a"/>
<rect x="1247" y="77" width="3" height="9" fill="#e5354a"/>
<rect x="1252" y="84" width="1" height="17" fill="#e5354a"/>
<rect x="1251" y="85" width="3" height="10" fill="#e5354a"/>
<rect x="1256" y="92" width="1" height="17" fill="#e5354a"/>
<rect x="1255" y="94" width="3" height="13" fill="#e5354a"/>
<rect x="1260" y="100" width="1" height="40" fill="#e5354a"/>
<rect x="1259" y="104" width="3" height="23" fill="#e5354a"/>
<rect x="1264" y="115" width="1" height="18" fill="#1e90ff"/>
<rect x="1263" y="126" width="3" height="1" fill="#1e90ff"/>
<rect x="1268" y="126" width="1" height="36" fill="#e5354a"/>
<rect x="1267" y="126" width="3" height="24" fill="#e5354a"/>
<rect x="1272" y="146" width="1" height="20" fill="#e5354a"/>
<rect x="1271" y="149" width="3" height="3" fill="#e5354a"/>
<rect x="1276" y="136" width="1" height="26" fill="#e5354a"/>
<rect x="1275" y="151" width="3" height="2" fill="#e5354a"/>
<rect x="1280" y="115" width="1" height="44" fill="#e5354a"/>
<rect x="1279" y="152" width="3" height="3" fill="#e5354a"/>
<rect x="1284" y="144" width="1" height="23" fill="#1e90ff"/>
<rect x="1283" y="152" width="3" height="3" fill="#1e90ff"/>
<rect x="1288" y="132" width="1" height="22" fill="#1e90ff"/>
<rect x="1287" y="135" width="3" height="18" fill="#1e90ff"/>
<rect x="1292" y="123" width="1" height="30" fill="#1e90ff"/>
<rect x="1291" y="124" width="3" height="12" fill="#1e90ff"/>
<rect x="1296" y="124" width="1" height="16" fill="#e5354a"/>
<rect x="1295" y="125" width="3" height="12" fill="#e5354a"/>
<rect x="1300" y="128" width="1" height="20" fill="#e5354a"/>
<rect x="1299" y="135" width="3" height="6" fill="#e5354a"/>
<rect x="1304" y="139" width="1" height="9" fill="#e5354a"/>
<rect x="1303" y="140" width="3" height="3" fill="#e5354a"/>
<rect x="1308" y="133" width="1" height="10" fill="#1e90ff"/>
<rect x="1307" y="134" width="3" height="9" fill="#1e90ff"/>
<rect x="1312" y="129" width="1" height="10" fill="#e5354a"/>
<rect x="1311" y="133" width="3" height="1" fill="#e5354a"/>
<rect x="1316" y="128" width="1" height="16" fill="#1e90ff"/>
<rect x="1315" y="132" width="3" height="8" fill="#1e90ff"/>
<rect x="1320" y="131" width="1" height="8" fill="#e5354a"/>
<rect x="1319" y="132" width="3" height="2" fill="#e5354a"/>
<rect x="1324" y="129" width="1" height="8" fill="#e5354a"/>
<rect x="1323" y="134" width="3" height="3" fill="#e5354a"/>
<rect x="1328" y="128" width="1" height="14" fill="#e5354a"/>
<rect x="1327" y="135" width="3" height="3" fill="#e5354a"/>
<rect x="1332" y="131" width="1" height="13" fill="#e5354a"/>
<rect x="1331" y="136" width="3" height="2" fill="#e5354a"/>
<rect x="1336" y="133" width="1" height="15" fill="#e5354a"/>
<rect x="1335" y="137" width="3" height="7" fill="#e5354a"/>
<rect x="1340" y="143" width="1" height="21" fill="#e5354a"/>
<rect x="1339" y="143" width="3" height="19" fill="#e5354a"/>
<rect x="1344" y="160" width="1" height="14" fill="#e5354a"/>
<rect x="1343" y="160" width="3" height="11" fill="#e5354a"/>
<rect x="1348" y="171" width="1" height="19" fill="#e5354a"/>
<rect x="1347" y="171" width="3" height="14" fill="#e5354a"/>
<rect x="1352" y="174" width="1" height="17" fill="#1e90ff"/>
<rect x="1351" y="176" width="3" height="9" fill="#1e90ff"/>
<rect x="1356" y="162" width="1" height="22" fill="#1e90ff"/>
<rect x="1355" y="176" width="3" height="1" fill="#1e90ff"/>
<rect x="1360" y="168" width="1" height="27" fill="#1e90ff"/>
<rect x="1359" y="169" width="3" height="8" fill="#1e90ff"/>
<rect x="1364" y="165" width="1" height="16" fill="#e5354a"/>
<rect x="1363" y="169" width="3" height="11" fill="#e5354a"/>
<rect x="1368" y="160" width="1" height="20" fill="#1e90ff"/>
<rect x="1367" y="164" width="3" height="16" fill="#1e90ff"/>
<rect x="1372" y="160" width="1" height="13" fill="#1e90ff"/>
<rect x="1371" y="162" width="3" height="4" fill="#1e90ff"/>
<rect x="1376" y="160" width="1" height="3" fill="#1e90ff"/>
<rect x="1375" y="160" width="3" height="3" fill="#1e90ff"/>
</g>
<g shape-rendering="crispEdges">
<line x1="0" y1="268.5" x2="1753" y2="268.5" stroke="#1e90ff" stroke-width="1" stroke-dasharray="18 6"/>
<line x1="0" y1="479.5" x2="1753" y2="479.5" stroke="#1e90ff" stroke-width="1" stroke-dasharray="18 6"/>
</g>
<line x1="536.4" y1="276.4" x2="1504.5" y2="99.75" stroke="#fff" stroke-width="1" shape-rendering="crispEdges" stroke-dasharray="18.30 6.10"/>
<line x1="190" y1="741" x2="1753" y2="478.5" stroke="#fff" stroke-width="1" shape-rendering="crispEdges" stroke-dasharray="18.25 6.08"/>
<g shape-rendering="crispEdges" fill="#2fcb71">
<rect x="0" y="784" width="2" height="2"/>
<rect x="3" y="784" width="3" height="2"/>
<rect x="7" y="784" width="3" height="1"/>
<rect x="11" y="784" width="3" height="2"/>
<rect x="15" y="782" width="3" height="2"/>
<rect x="19" y="779" width="3" height="5"/>
<rect x="23" y="775" width="3" height="9"/>
<rect x="27" y="770" width="3" height="14"/>
<rect x="31" y="767" width="3" height="17"/>
<rect x="35" y="764" width="3" height="20"/>
<rect x="39" y="761" width="3" height="23"/>
<rect x="43" y="759" width="3" height="25"/>
<rect x="47" y="757" width="3" height="27"/>
<rect x="51" y="756" width="3" height="28"/>
<rect x="55" y="755" width="3" height="29"/>
<rect x="59" y="756" width="3" height="28"/>
<rect x="63" y="756" width="3" height="28"/>
<rect x="67" y="757" width="3" height="27"/>
<rect x="71" y="758" width="3" height="26"/>
<rect x="75" y="759" width="3" height="25"/>
<rect x="79" y="760" width="3" height="24"/>
<rect x="83" y="762" width="3" height="22"/>
<rect x="87" y="764" width="3" height="20"/>
<rect x="91" y="765" width="3" height="19"/>
<rect x="95" y="766" width="3" height="18"/>
<rect x="99" y="767" width="3" height="17"/>
<rect x="103" y="767" width="3" height="17"/>
<rect x="107" y="767" width="3" height="17"/>
<rect x="111" y="766" width="3" height="18"/>
<rect x="115" y="765" width="3" height="19"/>
<rect x="119" y="764" width="3" height="20"/>
<rect x="123" y="762" width="3" height="22"/>
<rect x="127" y="764" width="3" height="20"/>
<rect x="131" y="765" width="3" height="19"/>
<rect x="135" y="767" width="3" height="17"/>
<rect x="139" y="767" width="3" height="17"/>
<rect x="143" y="767" width="3" height="17"/>
<rect x="147" y="765" width="3" height="19"/>
<rect x="151" y="762" width="3" height="22"/>
<rect x="155" y="758" width="3" height="26"/>
<rect x="159" y="757" width="3" height="27"/>
<rect x="163" y="756" width="3" height="28"/>
<rect x="167" y="755" width="3" height="29"/>
<rect x="171" y="755" width="3" height="29"/>
<rect x="175" y="756" width="3" height="28"/>
<rect x="179" y="758" width="3" height="26"/>
<rect x="183" y="759" width="3" height="25"/>
<rect x="187" y="759" width="3" height="25"/>
<rect x="191" y="759" width="3" height="25"/>
<rect x="195" y="760" width="3" height="24"/>
<rect x="199" y="758" width="3" height="26"/>
<rect x="203" y="757" width="3" height="27"/>
<rect x="207" y="755" width="3" height="29"/>
<rect x="211" y="755" width="3" height="29"/>
<rect x="215" y="755" width="3" height="29"/>
<rect x="219" y="756" width="3" height="28"/>
<rect x="223" y="756" width="3" height="28"/>
<rect x="227" y="755" width="3" height="29"/>
<rect x="231" y="754" width="3" height="30"/>
<rect x="235" y="753" width="3" height="31"/>
<rect x="239" y="751" width="3" height="33"/>
<rect x="243" y="750" width="3" height="34"/>
<rect x="247" y="748" width="3" height="36"/>
<rect x="251" y="747" width="3" height="37"/>
<rect x="255" y="747" width="3" height="37"/>
<rect x="259" y="748" width="3" height="36"/>
<rect x="263" y="749" width="3" height="35"/>
<rect x="267" y="749" width="3" height="35"/>
<rect x="271" y="750" width="3" height="34"/>
<rect x="275" y="752" width="3" height="32"/>
<rect x="279" y="754" width="3" height="30"/>
<rect x="283" y="754" width="3" height="30"/>
<rect x="287" y="755" width="3" height="29"/>
<rect x="291" y="756" width="3" height="28"/>
<rect x="295" y="757" width="3" height="27"/>
<rect x="299" y="760" width="3" height="24"/>
<rect x="303" y="762" width="3" height="22"/>
<rect x="307" y="765" width="3" height="19"/>
<rect x="311" y="767" width="3" height="17"/>
<rect x="315" y="769" width="3" height="15"/>
<rect x="319" y="769" width="3" height="15"/>
<rect x="323" y="769" width="3" height="15"/>
<rect x="327" y="770" width="3" height="14"/>
<rect x="331" y="771" width="3" height="13"/>
<rect x="335" y="772" width="3" height="12"/>
<rect x="339" y="773" width="3" height="11"/>
<rect x="343" y="774" width="3" height="10"/>
<rect x="347" y="776" width="3" height="8"/>
<rect x="351" y="777" width="3" height="7"/>
<rect x="355" y="778" width="3" height="6"/>
<rect x="359" y="779" width="3" height="5"/>
<rect x="363" y="780" width="3" height="4"/>
<rect x="367" y="780" width="3" height="4"/>
<rect x="371" y="780" width="3" height="4"/>
<rect x="375" y="781" width="3" height="3"/>
<rect x="379" y="781" width="3" height="3"/>
<rect x="383" y="781" width="3" height="3"/>
<rect x="387" y="781" width="3" height="3"/>
<rect x="391" y="780" width="3" height="4"/>
<rect x="395" y="778" width="3" height="6"/>
<rect x="399" y="775" width="3" height="9"/>
<rect x="403" y="773" width="3" height="11"/>
<rect x="407" y="772" width="3" height="12"/>
<rect x="411" y="773" width="3" height="11"/>
<rect x="415" y="774" width="3" height="10"/>
<rect x="419" y="774" width="3" height="10"/>
<rect x="423" y="774" width="3" height="10"/>
<rect x="427" y="774" width="3" height="10"/>
<rect x="431" y="775" width="3" height="9"/>
<rect x="435" y="775" width="3" height="9"/>
<rect x="439" y="775" width="3" height="9"/>
<rect x="443" y="775" width="3" height="9"/>
<rect x="447" y="775" width="3" height="9"/>
<rect x="451" y="775" width="3" height="9"/>
<rect x="455" y="775" width="3" height="9"/>
<rect x="459" y="774" width="3" height="10"/>
<rect x="463" y="774" width="3" height="10"/>
<rect x="467" y="774" width="3" height="10"/>
<rect x="471" y="775" width="3" height="9"/>
<rect x="475" y="777" width="3" height="7"/>
<rect x="479" y="778" width="3" height="6"/>
<rect x="483" y="780" width="3" height="4"/>
<rect x="487" y="781" width="3" height="3"/>
<rect x="491" y="783" width="3" height="1"/>
<rect x="495" y="784" width="3" height="1"/>
<rect x="499" y="784" width="3" height="1"/>
<rect x="503" y="783" width="3" height="1"/>
<rect x="507" y="782" width="3" height="2"/>
<rect x="511" y="781" width="3" height="3"/>
<rect x="515" y="781" width="3" height="3"/>
<rect x="519" y="781" width="3" height="3"/>
<rect x="523" y="782" width="3" height="2"/>
<rect x="527" y="783" width="3" height="1"/>
<rect x="531" y="784" width="3" height="3"/>
<rect x="535" y="784" width="3" height="6"/>
<rect x="539" y="784" width="3" height="7"/>
<rect x="543" y="784" width="3" height="8"/>
<rect x="547" y="784" width="3" height="10"/>
<rect x="551" y="784" width="3" height="11"/>
<rect x="555" y="784" width="3" height="11"/>
<rect x="559" y="784" width="3" height="10"/>
<rect x="563" y="784" width="3" height="9"/>
<rect x="567" y="784" width="3" height="8"/>
<rect x="571" y="784" width="3" height="8"/>
<rect x="575" y="784" width="3" height="7"/>
<rect x="579" y="784" width="3" height="7"/>
<rect x="583" y="784" width="3" height="6"/>
<rect x="587" y="784" width="3" height="4"/>
<rect x="591" y="784" width="3" height="1"/>
<rect x="595" y="781" width="3" height="3"/>
<rect x="599" y="779" width="3" height="5"/>
<rect x="603" y="778" width="3" height="6"/>
<rect x="607" y="777" width="3" height="7"/>
<rect x="611" y="776" width="3" height="8"/>
<rect x="615" y="775" width="3" height="9"/>
<rect x="619" y="773" width="3" height="11"/>
<rect x="623" y="772" width="3" height="12"/>
<rect x="627" y="771" width="3" height="13"/>
<rect x="631" y="770" width="3" height="14"/>
<rect x="635" y="769" width="3" height="15"/>
<rect x="639" y="770" width="3" height="14"/>
<rect x="643" y="771" width="3" height="13"/>
<rect x="647" y="772" width="3" height="12"/>
<rect x="651" y="772" width="3" height="12"/>
<rect x="655" y="773" width="3" height="11"/>
<rect x="659" y="774" width="3" height="10"/>
<rect x="663" y="776" width="3" height="8"/>
<rect x="667" y="777" width="3" height="7"/>
<rect x="671" y="778" width="3" height="6"/>
<rect x="675" y="780" width="3" height="4"/>
<rect x="679" y="781" width="3" height="3"/>
<rect x="683" y="782" width="3" height="2"/>
<rect x="687" y="782" width="3" height="2"/>
<rect x="691" y="781" width="3" height="3"/>
<rect x="695" y="781" width="3" height="3"/>
<rect x="699" y="781" width="3" height="3"/>
<rect x="703" y="781" width="3" height="3"/>
<rect x="707" y="781" width="3" height="3"/>
<rect x="711" y="779" width="3" height="5"/>
<rect x="715" y="777" width="3" height="7"/>
<rect x="719" y="775" width="3" height="9"/>
<rect x="723" y="774" width="3" height="10"/>
<rect x="727" y="774" width="3" height="10"/>
<rect x="731" y="773" width="3" height="11"/>
<rect x="735" y="774" width="3" height="10"/>
<rect x="739" y="774" width="3" height="10"/>
<rect x="743" y="774" width="3" height="10"/>
<rect x="747" y="774" width="3" height="10"/>
<rect x="751" y="775" width="3" height="9"/>
<rect x="755" y="775" width="3" height="9"/>
<rect x="759" y="775" width="3" height="9"/>
<rect x="763" y="776" width="3" height="8"/>
<rect x="767" y="776" width="3" height="8"/>
<rect x="771" y="777" width="3" height="7"/>
<rect x="775" y="778" width="3" height="6"/>
<rect x="779" y="779" width="3" height="5"/>
<rect x="783" y="780" width="3" height="4"/>
<rect x="787" y="780" width="3" height="4"/>
<rect x="791" y="782" width="3" height="2"/>
<rect x="795" y="784" width="3" height="1"/>
<rect x="799" y="784" width="3" height="2"/>
<rect x="803" y="784" width="3" height="2"/>
<rect x="807" y="784" width="3" height="2"/>
<rect x="811" y="784" width="3" height="1"/>
<rect x="815" y="784" width="3" height="2"/>
<rect x="819" y="784" width="3" height="2"/>
<rect x="823" y="784" width="3" height="2"/>
<rect x="827" y="784" width="3" height="2"/>
<rect x="831" y="784" width="3" height="1"/>
<rect x="835" y="784" width="3" height="1"/>
<rect x="839" y="784" width="3" height="1"/>
<rect x="843" y="784" width="3" height="1"/>
<rect x="847" y="784" width="3" height="1"/>
<rect x="851" y="784" width="3" height="2"/>
<rect x="855" y="784" width="3" height="2"/>
<rect x="859" y="784" width="3" height="2"/>
<rect x="863" y="784" width="3" height="2"/>
<rect x="867" y="784" width="3" height="2"/>
<rect x="871" y="784" width="3" height="3"/>
<rect x="875" y="784" width="3" height="4"/>
<rect x="879" y="784" width="3" height="5"/>
<rect x="883" y="784" width="3" height="6"/>
<rect x="887" y="784" width="3" height="5"/>
<rect x="891" y="784" width="3" height="4"/>
<rect x="895" y="784" width="3" height="4"/>
<rect x="899" y="784" width="3" height="4"/>
<rect x="903" y="784" width="3" height="5"/>
<rect x="907" y="784" width="3" height="6"/>
<rect x="911" y="784" width="3" height="6"/>
<rect x="915" y="784" width="3" height="6"/>
<rect x="919" y="784" width="3" height="6"/>
<rect x="923" y="784" width="3" height="6"/>
<rect x="927" y="784" width="3" height="5"/>
<rect x="931" y="784" width="3" height="5"/>
<rect x="935" y="784" width="3" height="5"/>
<rect x="939" y="784" width="3" height="5"/>
<rect x="943" y="784" width="3" height="5"/>
<rect x="947" y="784" width="3" height="4"/>
<rect x="951" y="784" width="3" height="3"/>
<rect x="955" y="784" width="3" height="3"/>
<rect x="959" y="784" width="3" height="2"/>
<rect x="963" y="784" width="3" height="2"/>
<rect x="967" y="784" width="3" height="2"/>
<rect x="971" y="784" width="3" height="1"/>
<rect x="975" y="783" width="3" height="1"/>
<rect x="979" y="783" width="3" height="1"/>
<rect x="983" y="781" width="3" height="3"/>
<rect x="987" y="779" width="3" height="5"/>
<rect x="991" y="777" width="3" height="7"/>
<rect x="995" y="776" width="3" height="8"/>
<rect x="999" y="774" width="3" height="10"/>
<rect x="1003" y="773" width="3" height="11"/>
<rect x="1007" y="772" width="3" height="12"/>
<rect x="1011" y="771" width="3" height="13"/>
<rect x="1015" y="769" width="3" height="15"/>
<rect x="1019" y="769" width="3" height="15"/>
<rect x="1023" y="769" width="3" height="15"/>
<rect x="1027" y="770" width="3" height="14"/>
<rect x="1031" y="771" width="3" height="13"/>
<rect x="1035" y="771" width="3" height="13"/>
<rect x="1039" y="772" width="3" height="12"/>
<rect x="1043" y="772" width="3" height="12"/>
<rect x="1047" y="774" width="3" height="10"/>
<rect x="1051" y="775" width="3" height="9"/>
<rect x="1055" y="776" width="3" height="8"/>
<rect x="1059" y="777" width="3" height="7"/>
<rect x="1063" y="778" width="3" height="6"/>
<rect x="1067" y="777" width="3" height="7"/>
<rect x="1071" y="776" width="3" height="8"/>
<rect x="1075" y="776" width="3" height="8"/>
<rect x="1079" y="776" width="3" height="8"/>
<rect x="1083" y="778" width="3" height="6"/>
<rect x="1087" y="780" width="3" height="4"/>
<rect x="1091" y="781" width="3" height="3"/>
<rect x="1095" y="782" width="3" height="2"/>
<rect x="1099" y="782" width="3" height="2"/>
<rect x="1103" y="780" width="3" height="4"/>
<rect x="1107" y="779" width="3" height="5"/>
<rect x="1111" y="778" width="3" height="6"/>
<rect x="1115" y="777" width="3" height="7"/>
<rect x="1119" y="776" width="3" height="8"/>
<rect x="1123" y="776" width="3" height="8"/>
<rect x="1127" y="776" width="3" height="8"/>
<rect x="1131" y="776" width="3" height="8"/>
<rect x="1135" y="777" width="3" height="7"/>
<rect x="1139" y="778" width="3" height="6"/>
<rect x="1143" y="778" width="3" height="6"/>
<rect x="1147" y="779" width="3" height="5"/>
<rect x="1151" y="779" width="3" height="5"/>
<rect x="1155" y="780" width="3" height="4"/>
<rect x="1159" y="782" width="3" height="2"/>
<rect x="1163" y="784" width="3" height="1"/>
<rect x="1167" y="784" width="3" height="2"/>
<rect x="1171" y="784" width="3" height="3"/>
<rect x="1175" y="784" width="3" height="3"/>
<rect x="1179" y="784" width="3" height="4"/>
<rect x="1183" y="784" width="3" height="5"/>
<rect x="1187" y="784" width="3" height="6"/>
<rect x="1191" y="784" width="3" height="6"/>
<rect x="1195" y="784" width="3" height="5"/>
<rect x="1199" y="784" width="3" height="5"/>
<rect x="1203" y="784" width="3" height="5"/>
<rect x="1207" y="784" width="3" height="3"/>
<rect x="1211" y="783" width="3" height="1"/>
<rect x="1215" y="782" width="3" height="2"/>
<rect x="1219" y="781" width="3" height="3"/>
<rect x="1223" y="780" width="3" height="4"/>
<rect x="1227" y="778" width="3" height="6"/>
<rect x="1231" y="778" width="3" height="6"/>
<rect x="1235" y="777" width="3" height="7"/>
<rect x="1239" y="777" width="3" height="7"/>
<rect x="1243" y="777" width="3" height="7"/>
<rect x="1247" y="777" width="3" height="7"/>
<rect x="1251" y="779" width="3" height="5"/>
<rect x="1255" y="780" width="3" height="4"/>
<rect x="1259" y="783" width="3" height="1"/>
<rect x="1263" y="784" width="3" height="2"/>
<rect x="1267" y="784" width="3" height="4"/>
<rect x="1271" y="784" width="3" height="7"/>
<rect x="1275" y="784" width="3" height="8"/>
<rect x="1279" y="784" width="3" height="9"/>
<rect x="1283" y="784" width="3" height="10"/>
<rect x="1287" y="784" width="3" height="10"/>
<rect x="1291" y="784" width="3" height="10"/>
<rect x="1295" y="784" width="3" height="9"/>
<rect x="1299" y="784" width="3" height="9"/>
<rect x="1303" y="784" width="3" height="8"/>
<rect x="1307" y="784" width="3" height="8"/>
<rect x="1311" y="784" width="3" height="8"/>
<rect x="1315" y="784" width="3" height="7"/>
<rect x="1319" y="784" width="3" height="7"/>
<rect x="1323" y="784" width="3" height="7"/>
<rect x="1327" y="784" width="3" height="7"/>
<rect x="1331" y="784" width="3" height="7"/>
<rect x="1335" y="784" width="3" height="7"/>
<rect x="1339" y="784" width="3" height="7"/>
<rect x="1343" y="784" width="3" height="9"/>
<rect x="1347" y="784" width="3" height="10"/>
<rect x="1351" y="784" width="3" height="12"/>
<rect x="1355" y="784" width="3" height="12"/>
<rect x="1359" y="784" width="3" height="12"/>
<rect x="1363" y="784" width="3" height="12"/>
<rect x="1367" y="784" width="3" height="11"/>
<rect x="1371" y="784" width="3" height="11"/>
<rect x="1375" y="784" width="3" height="10"/>
</g>
<polyline fill="none" stroke="#ea3348" stroke-width="1" shape-rendering="crispEdges" points="0,789.3 13.8,785.2 27.6,781 35.9,776.9 44,771.4 52.4,765.3 60.7,759.8 69,757 80,758.4 91,761.2 104.8,763.9 115.8,765.9 129.6,765.9 143.4,765.9 154.4,764.5 165.5,761.7 179.3,758.4 190.3,757.6 204,758.1 217.9,757.6 231.7,756.2 242.7,754 253.7,751.2 264.8,749.3 275.8,749.3 286.8,751.2 297.8,754 308.9,757.6 319.9,761.7 331,765.9 344.7,770 358.5,774.1 372.3,777.4 386,780.2 397,779.6 408,777.4 419.2,774.7 430.2,774.1 446.8,774.7 463.3,775 477.6,776 491.4,778.3 505,781.6 519,782.4 532.7,783.8 546.5,787.4 560.3,791.2 571.3,792.9 582.4,792.6 593.4,789.3 604.4,785.2 615.5,781 626.5,776.9 637.5,773.3 648.6,771.9 659.6,771.9 670.6,773.3 681.7,776.3 692.7,779 703.7,780.5 714.8,780.5 725.8,779 736.8,776.3 747.9,774.7 758.9,774.1 769.9,774.7 781,776.3 792,778.3 803,781 814,783.8 825,785.2 836,785.7 858,785.2 869,786 880,786.5 891.3,787.9 902.3,787.9 916.5,788.7 933,789.3 949.6,788.7 966,787 982.7,785.2 993.8,782.4 1004.8,779 1015.8,774.7 1026.9,771.4 1037.9,770.5 1049,770.8 1060,772.7 1071,775 1082,776.3 1093,778.3 1104,779.6 1115,779 1126,778.3 1137.2,777.4 1148.2,777.4 1159.2,779 1170.3,781 1181.3,783.8 1192.3,787 1203.4,788.7 1214.4,787.9 1225.4,785.2 1236.5,781.6 1247.5,779 1258.5,778.8 1269.6,781 1280.6,785.2 1291.6,789.3 1302.6,792.6 1313.7,792.9 1324.7,791.2 1335.7,790.1 1346.8,790.7 1357.8,792.6 1368.8,793.4 1375.7,794.3"/>
<g shape-rendering="crispEdges">
<line x1="1" y1="822.5" x2="1753" y2="822.5" stroke="#d8d8d8" stroke-width="1" stroke-dasharray="3 3"/>
<line x1="1" y1="838.5" x2="1753" y2="838.5" stroke="#d8d8d8" stroke-width="1" stroke-dasharray="3 3"/>
</g>
<polyline fill="none" stroke="#2468f0" stroke-width="1" shape-rendering="crispEdges" points="0,829.8 12.4,832 18,823.8 27.6,820.5 33,822.4 38.6,820.5 48.3,819.6 56.5,824.3 69,823.8 80,824.3 86.9,826.5 102,825.1 110.3,822.4 115.8,822.4 124,819.6 132.4,828.5 137.9,826.5 150.3,820.5 158.6,820.5 171,821.6 180.6,826.5 187.5,823.8 195.8,822.4 204,819.6 212.4,821.8 222,825.7 229,821.8 242.7,820.5 253.7,821 264.8,821.6 273,820.5 281.3,824.3 289.6,823.2 297.8,823.2 304.7,829.8 311.6,828.7 322.7,825.7 329.6,828.5 335,827 340.6,829.3 344.7,827.9 353,831.2 361.3,829.3 383.3,828.7 391.6,825.1 399.9,820.5 405.4,824.6 413.7,826.5 419.2,828.7 426,827.4 433,829.3 444,826.5 452.3,827.2 463.8,825.1 473.4,829.8 483,829.8 488.6,831.5 495.5,836.2 502.4,828.5 513.4,827.4 521.7,829.8 532.7,835.3 541,834.2 556,834.2 563,831.2 574,831.2 576.9,829.8 581,832.9 587.9,827.9 594.8,824.6 604.4,826.5 608.6,824.6 615.5,826.5 626.5,825.7 632,824.6 643,827.4 651.3,826.5 659.6,828.5 670.6,831.5 676,829.3 681.7,832 690,827.9 706.5,828.5 717.5,824.6 728.5,825.1 739.6,827.4 758.9,825.7 765.8,828.5 771.3,828.5 778.2,831.2 783.7,829.8 790.6,828.7 797.5,834.8 801.6,834.2 808.5,829.3 814,831.5 822.3,829.3 827.8,831.2 843,828.5 849.9,831.5 858,832 869,830.7 876,834.2 880,832.6 884.4,833.4 888.5,830.7 894,831.5 899.5,830.7 907.8,834.8 916,832 924.4,831 930.3,832 941.4,832 948.3,829.3 966.2,830.7 969,832 982.7,823.2 993.8,821.8 1002,820.5 1015.8,819.6 1024,822.4 1035,824.6 1043.4,826.5 1050.3,829.3 1060,828.5 1076.5,822.4 1084.8,833.4 1095.8,832 1104,825.7 1109.6,824.3 1115,824.6 1120.6,826.5 1134.4,826.5 1139.9,827.9 1145.4,827 1153.7,830.7 1164.8,835.3 1175.8,834.8 1179.9,832 1184,834.2 1196.5,834.2 1200.6,831.5 1204.7,834.2 1208.9,825.1 1213,827 1225.4,826 1231,825.1 1237.8,827 1244.7,826.5 1255.8,831.2 1261.3,834 1269.6,837.6 1284.7,837 1291.6,832 1297,833.4 1304,834 1308.2,832.6 1316.4,831.5 1333,832.6 1341.3,837 1348.2,840.3 1352.3,838.1 1360.6,835.3 1364.7,837.6 1368.8,833.4 1375.7,832.6"/>
<g shape-rendering="crispEdges" fill="#fff">
<rect x="1754" y="36" width="2" height="1"/>
<rect x="1754" y="85" width="2" height="1"/>
<rect x="1754" y="134" width="2" height="1"/>
<rect x="1754" y="183" width="2" height="1"/>
<rect x="1754" y="232" width="2" height="1"/>
<rect x="1754" y="281" width="2" height="1"/>
<rect x="1754" y="330" width="2" height="1"/>
<rect x="1754" y="379" width="2" height="1"/>
<rect x="1754" y="428" width="2" height="1"/>
<rect x="1754" y="477" width="2" height="1"/>
<rect x="1754" y="526" width="2" height="1"/>
<rect x="1754" y="575" width="2" height="1"/>
<rect x="1754" y="624" width="2" height="1"/>
<rect x="1754" y="673" width="2" height="1"/>
<rect x="1754" y="722" width="2" height="1"/>
<rect x="1754" y="744" width="1" height="1"/>
<rect x="1754" y="784" width="1" height="1"/>
<rect x="1754" y="806" width="1" height="1"/>
<rect x="1754" y="810" width="1" height="1"/>
</g>
<text class="ax" x="1760.5" y="40.6">1.30370</text>
<text class="ax" x="1760.5" y="89.6">1.30015</text>
<text class="ax" x="1760.5" y="138.6">1.29660</text>
<text class="ax" x="1760.5" y="187.6">1.29300</text>
<text class="ax" x="1760.5" y="236.6">1.28945</text>
<text class="ax" x="1760.5" y="285.6">1.28585</text>
<text class="ax" x="1760.5" y="334.6">1.28230</text>
<text class="ax" x="1760.5" y="383.6">1.27875</text>
<text class="ax" x="1760.5" y="432.6">1.27515</text>
<text class="ax" x="1760.5" y="481.6">1.27160</text>
<text class="ax" x="1760.5" y="530.6">1.26800</text>
<text class="ax" x="1760.5" y="579.6">1.26445</text>
<text class="ax" x="1760.5" y="628.6">1.26090</text>
<text class="ax" x="1760.5" y="677.6">1.25730</text>
<text class="ax" x="1760.5" y="726.6">1.25375</text>
<rect x="1755" y="153" width="56" height="14" fill="#fff" shape-rendering="crispEdges"/>
<text x="1760.5" y="164.6" style="font-size:12.5px;fill:#000">1.29467</text>
<text class="ax" x="1757" y="757">0.003864</text>
<text class="ax" x="1757" y="788.5">0.00</text>
<text class="ax" x="1757" y="804">-0.002211</text>
<text class="ax" x="1757" y="822.5">100</text>
<text class="ax" x="1757" y="827.2">70</text>
<text class="ax" x="1757" y="842.2">30</text>
<text class="ax" x="1757" y="848">0</text>
<text class="ax" x="-1" y="759">-0.000839 -0.000948</text>
<text class="big" x="715.2" y="45.6" textLength="125.5" lengthAdjust="spacingAndGlyphs" style="font-size:27.5px;fill:#fff;stroke:#fff;stroke-width:0.7px;paint-order:stroke;font-kerning:none">GBPUSD</text>
<text class="big" x="712.2" y="82.8" textLength="129.39999999999998" lengthAdjust="spacingAndGlyphs" style="font-size:27.5px;fill:#fff;stroke:#fff;stroke-width:0.7px;paint-order:stroke;font-kerning:none">H<tspan style="fill:none;stroke:none">1</tspan> Chart</text><path d="M806 0H525V1059Q371 915 162 846V1101Q272 1137 401 1237.5Q530 1338 578 1472H806Z" transform="translate(734.62 82.8) scale(0.01516 -0.01285)" fill="#fff" stroke="#fff" stroke-width="52.1" stroke-linejoin="round"/>
<text class="big" x="1465.6" y="24.5" textLength="71.80000000000018" lengthAdjust="spacingAndGlyphs" style="font-size:20.7px;fill:#fff;stroke:#fff;stroke-width:0.5px;paint-order:stroke;font-kerning:none"><tspan style="fill:none;stroke:none">1</tspan>.3050</text><path d="M806 0H525V1059Q371 915 162 846V1101Q272 1137 401 1237.5Q530 1338 578 1472H806Z" transform="translate(1465.60 24.5) scale(0.01146 -0.00967)" fill="#fff" stroke="#fff" stroke-width="49.5" stroke-linejoin="round"/>
<text class="big" x="1363.1" y="107.5" textLength="71.90000000000009" lengthAdjust="spacingAndGlyphs" style="font-size:20.7px;fill:#fff;stroke:#fff;stroke-width:0.5px;paint-order:stroke;font-kerning:none"><tspan style="fill:none;stroke:none">1</tspan>.2980</text><path d="M806 0H525V1059Q371 915 162 846V1101Q272 1137 401 1237.5Q530 1338 578 1472H806Z" transform="translate(1363.10 107.5) scale(0.01148 -0.00967)" fill="#fff" stroke="#fff" stroke-width="49.5" stroke-linejoin="round"/>
<text class="big" x="1385.2" y="289.6" textLength="72.0" lengthAdjust="spacingAndGlyphs" style="font-size:20.7px;fill:#1e90ff;stroke:#1e90ff;stroke-width:0.5px;paint-order:stroke;font-kerning:none"><tspan style="fill:none;stroke:none">1</tspan>.2860</text><path d="M806 0H525V1059Q371 915 162 846V1101Q272 1137 401 1237.5Q530 1338 578 1472H806Z" transform="translate(1385.20 289.6) scale(0.01150 -0.00967)" fill="#1e90ff" stroke="#1e90ff" stroke-width="49.5" stroke-linejoin="round"/>
<text class="big" x="1359.6" y="511.4" textLength="150.60000000000014" lengthAdjust="spacingAndGlyphs" style="font-size:20.7px;fill:#1e90ff;stroke:#1e90ff;stroke-width:0.5px;paint-order:stroke;font-kerning:none"><tspan style="fill:none;stroke:none">1</tspan>.2680-<tspan style="fill:none;stroke:none">1</tspan>.27<tspan style="fill:none;stroke:none">1</tspan>5</text><path d="M806 0H525V1059Q371 915 162 846V1101Q272 1137 401 1237.5Q530 1338 578 1472H806Z" transform="translate(1359.60 511.4) scale(0.01140 -0.00967)" fill="#1e90ff" stroke="#1e90ff" stroke-width="49.5" stroke-linejoin="round"/><path d="M806 0H525V1059Q371 915 162 846V1101Q272 1137 401 1237.5Q530 1338 578 1472H806Z" transform="translate(1438.79 511.4) scale(0.01140 -0.00967)" fill="#1e90ff" stroke="#1e90ff" stroke-width="49.5" stroke-linejoin="round"/><path d="M806 0H525V1059Q371 915 162 846V1101Q272 1137 401 1237.5Q530 1338 578 1472H806Z" transform="translate(1484.23 511.4) scale(0.01140 -0.00967)" fill="#1e90ff" stroke="#1e90ff" stroke-width="49.5" stroke-linejoin="round"/>
<g fill="none" stroke="#fff" stroke-width="2.9" stroke-linecap="round" stroke-linejoin="round">
<path d="M1456.1 90.6 L1490 42.6 M1481.2 47 L1490 42.6 L1485.4 62"/>
</g>
<g fill="none" stroke="#f01c28" stroke-width="2.7" stroke-linecap="round" stroke-linejoin="round">
<path d="M1393.3 138.7 L1430.5 256.9 L1464.9 170.5"/>
<path d="M1464.9 170.5 L1454.3 183.3 L1460 182 L1464 190.5 Z" fill="#f01c28"/>
<path d="M1443.1 320.3 L1477.5 454.6 M1468.3 444.3 L1477.5 454.6 L1480.3 438.9"/>
</g>
<rect x="1531" y="193" width="4" height="3" fill="#000" shape-rendering="crispEdges"/>
<path d="M1376 3 L1387.5 3 L1381.7 9 Z" fill="#8593a8"/>
</svg></body></html>
